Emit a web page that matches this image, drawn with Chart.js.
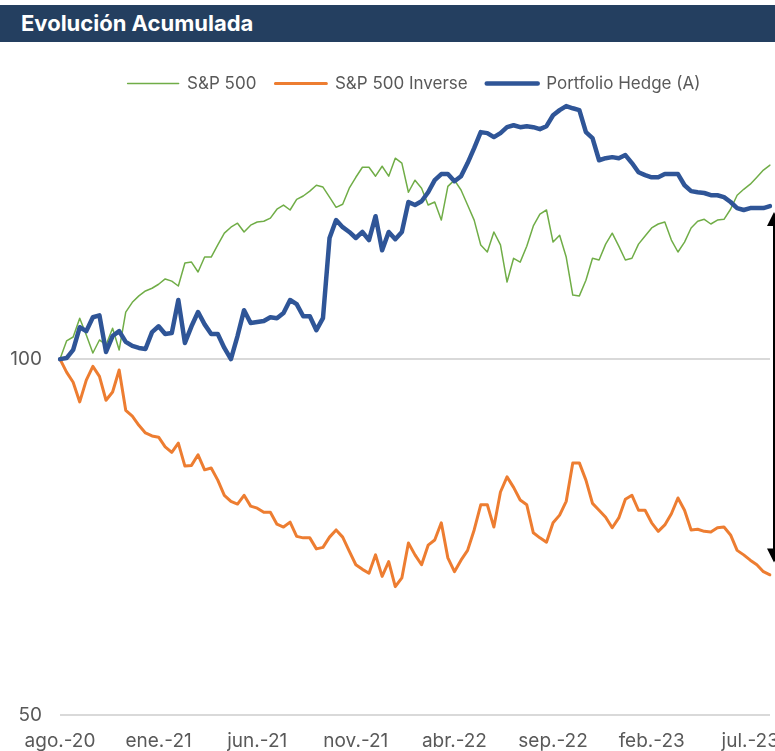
<!DOCTYPE html>
<html>
<head>
<meta charset="utf-8">
<script src="https://cdn.jsdelivr.net/npm/chart.js@4.4.0/dist/chart.umd.min.js"></script>
<style>
    html, body { margin: 0; padding: 0; background: #fff; overflow: hidden; }
    .wrap { position: relative; width: 775px; height: 751px; }
    .titulo {
        position: absolute; left: 0; top: 5px; width: 775px; height: 37px;
        background: #243F60; color: #fff; font: bold 22px Inter, sans-serif;
        line-height: 37px; padding-left: 21px; box-sizing: border-box; z-index: 2;
    }
    canvas { position: absolute; left: 0; top: 0; }
</style>
</head>
<body>
<div class="wrap">
    <div class="titulo">Evolución Acumulada</div>
    <canvas id="evolucion" width="775" height="751"></canvas>
</div>
<script>
// etiquetas del eje x (cada 5 meses, desde ago.-20)
const tickLabels = ["ago.-20", "ene.-21", "jun.-21", "nov.-21", "abr.-22", "sep.-22", "feb.-23", "jul.-23"];
const yTicks = [50, 100];
const seriesNames = ["S&P 500", "S&P 500 Inverse", "Portfolio Hedge (A)"];

// valores base 100, un punto cada ~10 días
const sp500 = [
    100.0, 103.6, 104.4, 108.3, 104.8, 101.2, 103.8, 102.8, 106.2, 101.8,
    109.6, 111.7, 113.1, 114.2, 114.8, 115.7, 116.9, 116.4, 115.3, 120.6,
    120.8, 118.5, 122.0, 122.0, 124.9, 127.8, 129.3, 130.3, 128.1, 129.8,
    130.6, 130.8, 131.6, 133.9, 135.0, 133.7, 136.5, 137.4, 138.7, 140.3,
    139.8, 137.1, 134.4, 135.2, 139.5, 142.5, 145.3, 145.3, 142.8, 145.6,
    142.8, 147.9, 146.5, 138.4, 141.7, 139.5, 135.0, 135.8, 131.1, 140.0,
    141.7, 139.0, 135.0, 131.1, 124.9, 123.2, 128.1, 124.9, 116.2, 121.7,
    120.8, 124.6, 129.6, 132.6, 133.7, 125.6, 127.3, 122.0, 113.3, 113.1,
    116.6, 121.7, 121.3, 125.1, 127.8, 124.6, 121.3, 121.7, 125.1, 127.1,
    129.1, 130.1, 130.6, 126.1, 123.2, 125.6, 129.1, 130.8, 131.3, 130.1,
    131.1, 131.3, 133.9, 137.6, 139.2, 140.6, 142.5, 144.5, 145.9
];
const sp500Inverse = [
    100.0, 97.5, 95.6, 92.0, 96.0, 98.6, 96.7, 92.3, 93.8, 97.9,
    90.5, 89.5, 87.9, 86.6, 86.1, 85.9, 84.3, 83.4, 84.9, 81.2,
    81.3, 83.0, 80.6, 80.9, 79.0, 76.7, 75.8, 75.4, 76.7, 75.1,
    74.8, 74.2, 74.2, 72.5, 72.1, 72.8, 70.8, 70.6, 70.6, 69.1,
    69.3, 70.7, 71.7, 70.7, 68.8, 67.0, 66.4, 65.9, 68.3, 65.5,
    67.4, 64.2, 65.3, 69.9, 68.3, 67.0, 69.6, 70.3, 72.7, 67.9,
    66.1, 67.6, 68.9, 71.7, 75.3, 75.3, 72.1, 77.2, 79.5, 77.9,
    76.0, 75.3, 71.3, 70.6, 70.0, 72.7, 73.8, 75.8, 81.7, 81.7,
    79.0, 75.5, 74.5, 73.5, 72.0, 73.4, 76.1, 76.7, 74.5, 74.5,
    72.7, 71.5, 72.4, 74.0, 76.3, 74.5, 71.7, 71.8, 71.5, 71.4,
    72.0, 72.1, 71.0, 68.9, 68.3, 67.6, 67.0, 66.1, 65.7
];
const portfolioHedge = [
    100.0, 100.2, 101.8, 106.4, 105.6, 108.5, 108.9, 101.4, 104.6, 105.6,
    103.4, 102.6, 102.2, 102.0, 105.4, 106.6, 105.0, 105.2, 112.2, 103.2,
    106.6, 109.6, 107.0, 105.0, 105.0, 102.2, 100.0, 104.6, 110.0, 107.3,
    107.5, 107.7, 108.5, 108.3, 109.4, 112.2, 111.3, 108.7, 108.7, 105.8,
    108.3, 126.6, 131.1, 129.3, 128.1, 126.6, 128.1, 126.1, 132.1, 123.6,
    128.1, 126.3, 128.1, 135.8, 135.0, 136.0, 138.4, 141.7, 143.4, 143.4,
    141.4, 142.8, 146.5, 150.8, 155.6, 155.3, 154.1, 155.3, 157.1, 157.7,
    157.1, 157.4, 157.1, 156.5, 157.4, 160.8, 162.4, 163.7, 163.0, 162.4,
    155.6, 153.8, 147.3, 147.9, 148.2, 147.9, 148.8, 146.5, 143.9, 143.1,
    142.5, 142.5, 143.4, 143.4, 143.4, 140.3, 138.7, 138.4, 138.2, 137.6,
    137.6, 137.1, 135.8, 134.2, 133.7, 134.2, 134.2, 134.2, 134.7
];
// flecha de la derecha: distancia entre cobertura e inverso al final
const arrowRange = [67.3, 133.2];

const GRIS = "#595959";
const FUENTE = "Inter, sans-serif";

// flecha doble al borde derecho
const flecha = {
    id: "flecha",
    afterDraw(chart) {
        const { ctx, chartArea, scales: { y } } = chart;
        const x = chartArea.right + 4;
        const top = y.getPixelForValue(arrowRange[1]);
        const bottom = y.getPixelForValue(arrowRange[0]);
        ctx.save();
        ctx.strokeStyle = "#000";
        ctx.fillStyle = "#000";
        ctx.lineWidth = 2;
        ctx.beginPath();
        ctx.moveTo(x, top + 10);
        ctx.lineTo(x, bottom - 10);
        ctx.stroke();
        ctx.beginPath();
        ctx.moveTo(x, top);
        ctx.lineTo(x - 7, top + 14);
        ctx.lineTo(x + 7, top + 14);
        ctx.closePath();
        ctx.fill();
        ctx.beginPath();
        ctx.moveTo(x, bottom);
        ctx.lineTo(x - 7, bottom - 14);
        ctx.lineTo(x + 7, bottom - 14);
        ctx.closePath();
        ctx.fill();
        ctx.restore();
    }
};

// la leyenda del original esta algo corrida a la derecha
const moverLeyenda = {
    id: "moverLeyenda",
    afterLayout(chart) {
        chart.legend.left += 24;
        chart.legend.right += 24;
    }
};

const ctx = document.getElementById("evolucion").getContext("2d");
new Chart(ctx, {
    type: "line",
    data: {
        labels: sp500.map((v, i) => i),
        datasets: [
            {
                label: seriesNames[0],
                data: sp500,
                borderColor: "#70AD47",
                backgroundColor: "#70AD47",
                borderWidth: 1.5,
                order: 3
            },
            {
                label: seriesNames[1],
                data: sp500Inverse,
                borderColor: "#ED7D31",
                backgroundColor: "#ED7D31",
                borderWidth: 3,
                order: 2
            },
            {
                label: seriesNames[2],
                data: portfolioHedge,
                borderColor: "#2F5597",
                backgroundColor: "#2F5597",
                borderWidth: 4.5,
                order: 1
            }
        ]
    },
    options: {
        responsive: false,
        animation: false,
        elements: {
            point: { radius: 0 },
            line: { tension: 0, borderJoinStyle: "round", borderCapStyle: "round" }
        },
        layout: { padding: { top: 56, left: 10, right: 5, bottom: 0 } },
        plugins: {
            legend: {
                labels: {
                    boxWidth: 51,
                    boxHeight: 0,
                    padding: 19,
                    color: GRIS,
                    font: { family: FUENTE, size: 17 },
                    sort: (a, b) => a.datasetIndex - b.datasetIndex
                }
            },
            tooltip: { enabled: false }
        },
        scales: {
            x: {
                grid: { display: false },
                border: { display: false },
                ticks: {
                    autoSkip: false,
                    maxRotation: 0,
                    padding: 7,
                    color: GRIS,
                    font: { family: FUENTE, size: 19 },
                    callback: (v, i) => i % 15 === 0 ? tickLabels[i / 15] : ""
                },
                afterFit: (s) => {
                    s.paddingLeft = 0;
                    s.paddingRight = 0;
                    s.height = 36;
                }
            },
            y: {
                type: "logarithmic",
                min: 50,
                max: 165,
                grid: { color: "#D9D9D9", lineWidth: 2, drawTicks: false },
                border: { display: false },
                ticks: {
                    padding: 18,
                    color: GRIS,
                    font: { family: FUENTE, size: 19 },
                    callback: (v) => v
                },
                afterBuildTicks: (s) => {
                    s.ticks = yTicks.map(v => ({ value: v }));
                },
                afterFit: (s) => {
                    s.width = 50;
                }
            }
        }
    },
    plugins: [flecha, moverLeyenda]
});
</script>
</body>
</html>
